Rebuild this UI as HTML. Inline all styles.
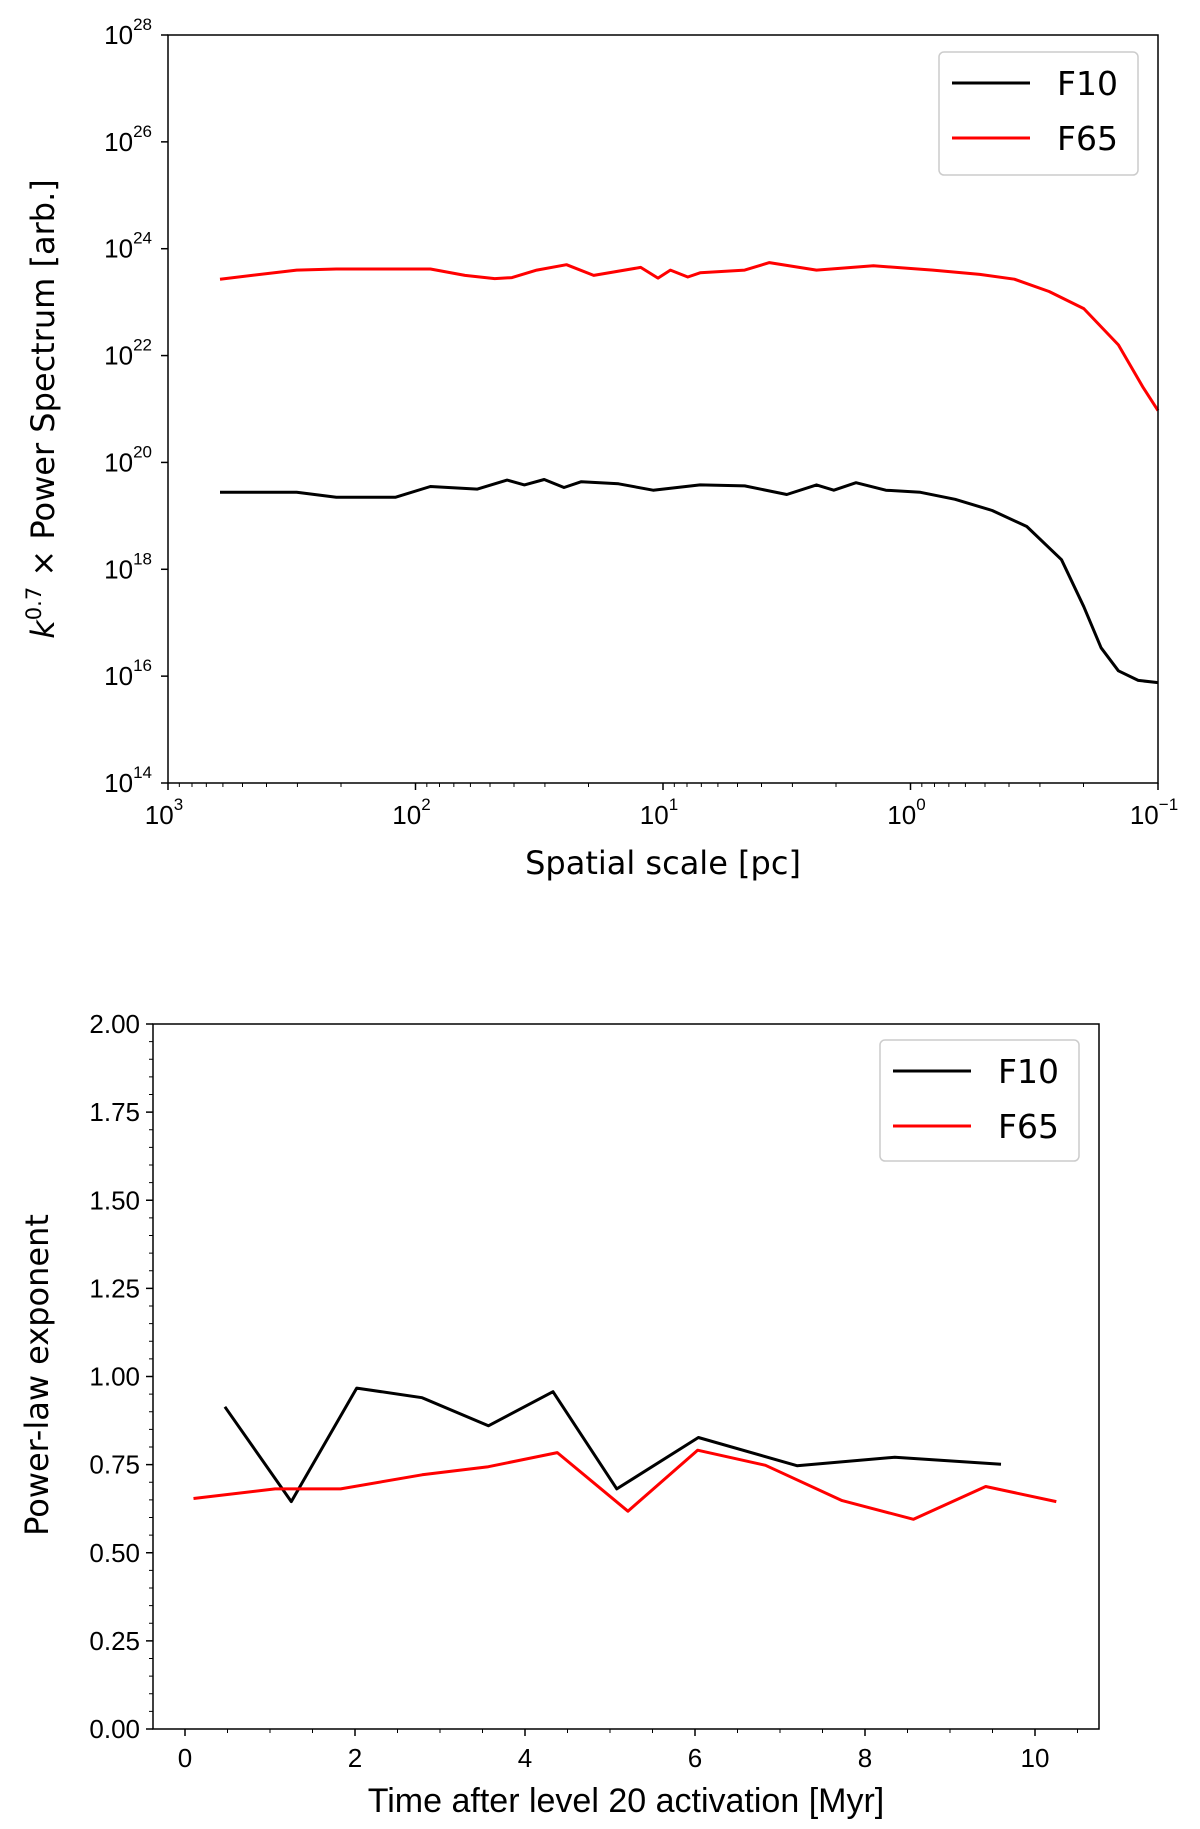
<!DOCTYPE html>
<html><head><meta charset="utf-8"><style>
html,body{margin:0;padding:0;background:#fff;}
svg{display:block;font-family:"DejaVu Sans","Liberation Sans",sans-serif;}
.tk{font-family:"Liberation Sans Narrow","Liberation Sans",sans-serif;}
</style></head><body>
<svg id="fig" width="1200" height="1829" viewBox="0 0 1200 1829" xmlns="http://www.w3.org/2000/svg">
<g id="top"></g>
<g id="bot"></g>
</svg>
<script>
// ---- Top chart data ----
const topScaleLog = [2.79,2.48,2.32,2.27,2.08,1.94,1.80,1.68,1.61,1.51,1.39,1.28,1.09,1.02,0.97,0.90,0.85,0.67,0.57,0.38,0.15,-0.09,-0.28,-0.42,-0.56,-0.70,-0.84,-0.94,-1.0];
const topF65 = [23.43,23.6,23.62,23.62,23.62,23.62,23.5,23.44,23.46,23.6,23.7,23.5,23.65,23.45,23.6,23.47,23.55,23.6,23.74,23.6,23.68,23.6,23.52,23.43,23.2,22.88,22.2,21.4,20.97];
const topScaleLogB = [2.79,2.48,2.32,2.08,1.94,1.75,1.63,1.56,1.48,1.40,1.33,1.18,1.04,0.85,0.67,0.50,0.38,0.31,0.22,0.10,-0.04,-0.18,-0.33,-0.47,-0.61,-0.70,-0.77,-0.84,-0.92,-1.0];
const topF10 = [19.44,19.44,19.35,19.35,19.55,19.5,19.67,19.58,19.68,19.53,19.64,19.6,19.48,19.58,19.56,19.4,19.58,19.48,19.62,19.48,19.44,19.31,19.1,18.8,18.18,17.3,16.53,16.1,15.92,15.88];
const topYTicks = [14,16,18,20,22,24,26,28];
const topXTicks = [3,2,1,0,-1];
// ---- Bottom chart data ----
const botF10x = [0.47,1.25,2.02,2.79,3.57,4.33,5.08,6.04,7.2,8.35,9.6];
const botF10y = [0.914,0.645,0.967,0.940,0.860,0.957,0.681,0.827,0.747,0.771,0.751];
const botF65x = [0.1,1.06,1.83,2.79,3.57,4.38,5.21,6.03,6.83,7.73,8.57,9.42,10.25];
const botF65y = [0.654,0.681,0.681,0.721,0.744,0.784,0.618,0.791,0.748,0.648,0.595,0.688,0.645];
const botYTicks = ["0.00","0.25","0.50","0.75","1.00","1.25","1.50","1.75","2.00"];
const botXTicks = ["0","2","4","6","8","10"];

const NS="http://www.w3.org/2000/svg";
function mk(parent,tag,attrs,text){const e=document.createElementNS(NS,tag);for(const k in attrs)e.setAttribute(k,attrs[k]);if(text!==undefined)e.textContent=text;parent.appendChild(e);return e;}

// ===== Top chart =====
const T=document.getElementById('top');
const tL=168,tR=1158,tT=35,tB=783;
const tx=v=>tL+(3-v)/4*(tR-tL);
const ty=v=>tB-(v-14)/14*(tB-tT);
topYTicks.forEach(v=>{
  const y=ty(v);
  const t=mk(T,'line',{x1:tL-7,x2:tL,y1:y,y2:y,stroke:'#000','stroke-width':1.5});
  
  
  const lb=mk(T,'text',{x:tL-16,y:y+9,'text-anchor':'end','font-size':26,class:'tk'});
  
  
  mk(lb,'tspan',{},'10');
  mk(lb,'tspan',{dy:-14,'font-size':17},String(v));
});
topXTicks.forEach((v,i)=>{
  const x=tx(v);
  const t=mk(T,'line',{x1:x,x2:x,y1:tB,y2:tB+7,stroke:'#000','stroke-width':1.5});
  
  
  const lb=mk(T,'text',{x:x-4,y:tB+41,'text-anchor':'middle','font-size':26,class:'tk'});
  
  
  mk(lb,'tspan',{},'10');
  mk(lb,'tspan',{dy:-14,'font-size':17},v<0?'\u2212'+(-v):String(v));
  if(i<topXTicks.length-1){
    for(let m=2;m<=9;m++){
      const mx=tx(v-1+Math.log10(m));
      const mt=mk(T,'line',{x1:mx,x2:mx,y1:tB,y2:tB+4,stroke:'#000','stroke-width':1});
      
      
    }
  }
});
function pathFrom(xs,ys,fx,fy){return xs.map((v,i)=>(i?'L':'M')+fx(v).toFixed(1)+','+fy(ys[i]).toFixed(1)).join(' ');}
const r1=mk(T,'path',{d:pathFrom(topScaleLog,topF65,tx,ty),fill:'none',stroke:'#ff0000','stroke-width':3,'stroke-linejoin':'round'});


const b1=mk(T,'path',{d:pathFrom(topScaleLogB,topF10,tx,ty),fill:'none',stroke:'#000','stroke-width':3,'stroke-linejoin':'round'});


const f1=mk(T,'rect',{x:tL,y:tT,width:tR-tL,height:tB-tT,fill:'none',stroke:'#000','stroke-width':1.5});


const yl=mk(T,'text',{transform:'translate(54,409) rotate(-90)','text-anchor':'middle','font-size':32});


mk(yl,'tspan',{'font-style':'italic'},'k');
mk(yl,'tspan',{dy:-13,'font-size':21},'0.7');
mk(yl,'tspan',{dy:13},' \u00d7  Power Spectrum [arb.]');
const xl=mk(T,'text',{x:663,y:874,'text-anchor':'middle','font-size':32},'Spatial scale [pc]');


const lg1=mk(T,'g',{});


mk(lg1,'rect',{x:939,y:52,width:199,height:123,rx:5,fill:'#fff',stroke:'#ccc','stroke-width':1.5});
mk(lg1,'line',{x1:952,x2:1030,y1:83,y2:83,stroke:'#000','stroke-width':3});
mk(lg1,'text',{x:1057,y:95,'font-size':33},'F10');
mk(lg1,'line',{x1:952,x2:1030,y1:138,y2:138,stroke:'#ff0000','stroke-width':3});
mk(lg1,'text',{x:1057,y:150,'font-size':33},'F65');

// ===== Bottom chart =====
const B=document.getElementById('bot');
const bL=153,bR=1099,bT=1024,bB=1729;
const bx=v=>185+v*85;
const by=v=>bB-v/2*(bB-bT);
for(let v=0;v<=2.0001;v+=0.05){
  const y=by(v);const major=Math.abs(v/0.25-Math.round(v/0.25))<1e-6;
  const t=mk(B,'line',{x1:bL-(major?7:4),x2:bL,y1:y,y2:y,stroke:'#000','stroke-width':major?1.5:1});
  
  
}
botYTicks.forEach(s=>{
  const y=by(parseFloat(s));
  const lb=mk(B,'text',{x:bL-13,y:y+9,'text-anchor':'end','font-size':26,class:'tk'},s);
  
  
});
for(let v=-0.5;v<=10.75;v+=0.5){
  const x=bx(v);if(x<bL||x>bR)continue;const major=(Math.round(v*2)%4===0);
  const t=mk(B,'line',{x1:x,x2:x,y1:bB,y2:bB+(major?7:4),stroke:'#000','stroke-width':major?1.5:1});
  
  
}
botXTicks.forEach(s=>{
  const lb=mk(B,'text',{x:bx(parseFloat(s)),y:bB+38,'text-anchor':'middle','font-size':26,class:'tk'},s);
  
  
});
const b2=mk(B,'path',{d:pathFrom(botF10x,botF10y,bx,by),fill:'none',stroke:'#000','stroke-width':3,'stroke-linejoin':'round'});


const r2=mk(B,'path',{d:pathFrom(botF65x,botF65y,bx,by),fill:'none',stroke:'#ff0000','stroke-width':3,'stroke-linejoin':'round'});


const f2=mk(B,'rect',{x:bL,y:bT,width:bR-bL,height:bB-bT,fill:'none',stroke:'#000','stroke-width':1.5});


const yl2=mk(B,'text',{transform:'translate(48,1375) rotate(-90)','text-anchor':'middle','font-size':32},'Power-law exponent');


const xl2=mk(B,'text',{x:626,y:1812,'text-anchor':'middle','font-size':34,class:'tk'},'Time after level 20 activation [Myr]');


const lg2=mk(B,'g',{});


mk(lg2,'rect',{x:880,y:1040,width:199,height:121,rx:5,fill:'#fff',stroke:'#ccc','stroke-width':1.5});
mk(lg2,'line',{x1:893,x2:971,y1:1071,y2:1071,stroke:'#000','stroke-width':3});
mk(lg2,'text',{x:998,y:1083,'font-size':33},'F10');
mk(lg2,'line',{x1:893,x2:971,y1:1126,y2:1126,stroke:'#ff0000','stroke-width':3});
mk(lg2,'text',{x:998,y:1138,'font-size':33},'F65');
</script>
</body></html>
